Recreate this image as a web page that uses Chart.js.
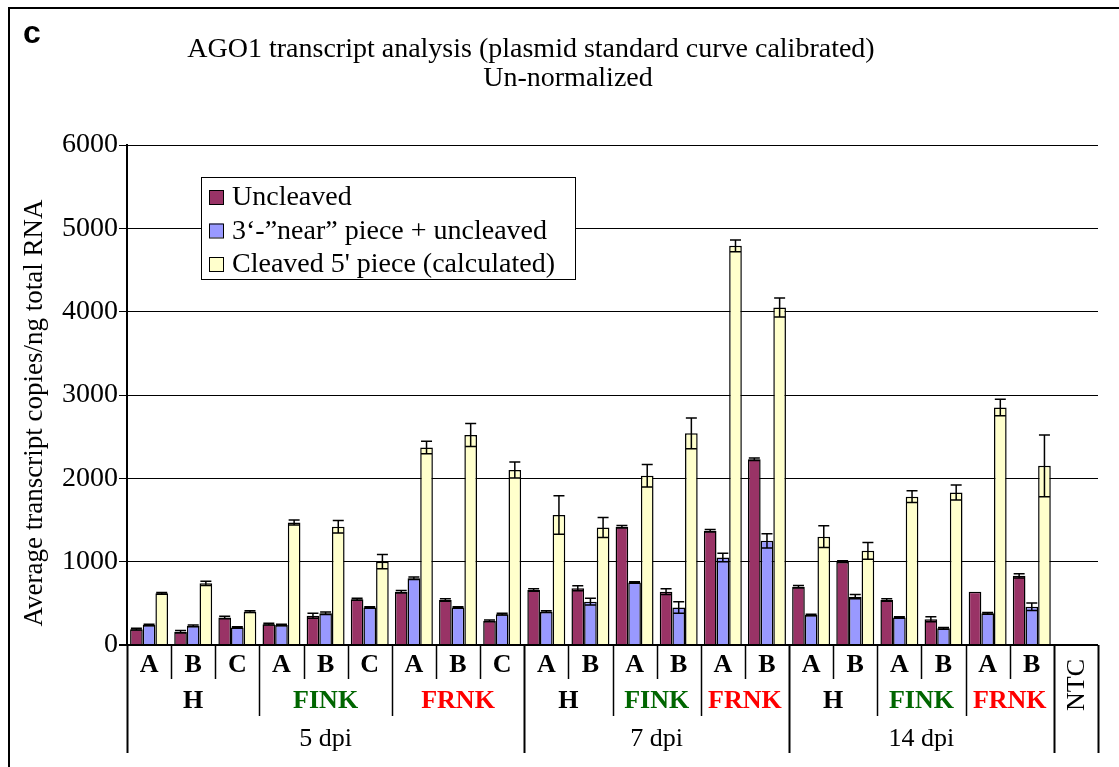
<!DOCTYPE html>
<html>
<head>
<meta charset="utf-8">
<script src="https://cdn.jsdelivr.net/npm/chart.js@4"></script>
<style>
  html, body { margin: 0; padding: 0; background: #fff; }
  #wrap { width: 1119px; height: 767px; position: relative; }
</style>
</head>
<body>
<div id="wrap"><canvas id="grafico" width="1119" height="767"></canvas></div>
<script>
// rótulos do eixo x em três níveis
const amostras = ['A','B','C','A','B','C','A','B','C','A','B','A','B','A','B','A','B','A','B','A','B','NTC'];
const linhas = ['H','H','H','FINK','FINK','FINK','FRNK','FRNK','FRNK','H','H','FINK','FINK','FRNK','FRNK','H','H','FINK','FINK','FRNK','FRNK','NTC'];
const dpi = ['5 dpi','5 dpi','5 dpi','5 dpi','5 dpi','5 dpi','5 dpi','5 dpi','5 dpi',
  '7 dpi','7 dpi','7 dpi','7 dpi','7 dpi','7 dpi',
  '14 dpi','14 dpi','14 dpi','14 dpi','14 dpi','14 dpi','NTC'];

// séries (cópias/ng RNA total)
const naoClivado = [190,160,330, 250,350,550, 640,540,290, 660,680, 1420,640, 1370,2230, 700,1000, 540,310, 640,830, 0];
const pedacoPerto = [240,230,210, 240,380,450, 800,450,370, 400,520, 750,450, 1050,1250, 360,580, 330,200, 380,460, 0];
const clivado5 = [620,740,400, 1470,1420,1000, 2370,2520,2100, 1560,1410, 2030,2540, 4790,4050, 1300,1130, 1780,1830, 2850,2150, 0];

// barras de erro
const erroNaoClivado = [10,15,15, 10,30,12, 15,15,10, 15,30, 15,35, 15,15, 15,10, 15,30, 0,25, 0];
const erroPerto = [10,10,10, 10,15,10, 15,10,10, 10,40, 10,70, 50,85, 10,25, 10,10, 10,45, 0];
const erroClivado = [10,25,10, 30,75,85, 75,138,95, 230,120, 135,185, 70,115, 130,100, 70,90, 100,370, 0];

const yTicks = [0,1000,2000,3000,4000,5000,6000];

const corLinha = { 'H': '#000000', 'FINK': '#006600', 'FRNK': '#FF0000' };
const serif = '"Liberation Serif", "Times New Roman", serif';

// desenha as barras de erro
const pluginErros = {
  id: 'erros',
  afterDatasetsDraw(chart) {
    const ctx = chart.ctx;
    const y = chart.scales.y;
    chart.data.datasets.forEach((ds, i) => {
      const meta = chart.getDatasetMeta(i);
      meta.data.forEach((bar, j) => {
        const e = ds.erros[j];
        const v = ds.data[j];
        if (!e || !v) return;
        const yt = y.getPixelForValue(v + e);
        const yb = y.getPixelForValue(v - e);
        ctx.save();
        ctx.strokeStyle = '#000';
        ctx.lineWidth = 1.5;
        ctx.beginPath();
        ctx.moveTo(bar.x, yt); ctx.lineTo(bar.x, yb);
        ctx.moveTo(bar.x - 5.5, yt); ctx.lineTo(bar.x + 5.5, yt);
        ctx.moveTo(bar.x - 5.5, yb); ctx.lineTo(bar.x + 5.5, yb);
        ctx.stroke();
        ctx.restore();
      });
    });
  }
};

// título, legenda, rótulos hierárquicos e moldura
const pluginExtras = {
  id: 'extras',
  afterDraw(chart) {
    const ctx = chart.ctx;
    const area = chart.chartArea;
    const x = chart.scales.x;
    const n = amostras.length;
    const larg = (area.right - area.left) / n;
    const base = area.bottom;
    ctx.save();

    // moldura
    ctx.strokeStyle = '#000';
    ctx.lineWidth = 2;
    ctx.beginPath();
    ctx.moveTo(9, 767); ctx.lineTo(9, 8); ctx.lineTo(1119, 8);
    ctx.stroke();

    ctx.fillStyle = '#000';
    ctx.font = 'bold 32px "Liberation Sans", Arial, sans-serif';
    ctx.textAlign = 'left';
    ctx.textBaseline = 'alphabetic';
    ctx.fillText('c', 23, 43);

    // título
    ctx.font = '28px ' + serif;
    ctx.textAlign = 'center';
    ctx.fillText('AGO1 transcript analysis (plasmid standard curve calibrated)', 531, 57);
    ctx.fillText('Un-normalized', 568, 86);

    // título do eixo y
    ctx.save();
    ctx.translate(35, 413);
    ctx.rotate(-Math.PI / 2);
    ctx.font = '27px ' + serif;
    ctx.textAlign = 'center';
    ctx.textBaseline = 'middle';
    ctx.fillText('Average transcript copies/ng total RNA', 0, 0);
    ctx.restore();

    // legenda
    ctx.fillStyle = '#fff';
    ctx.fillRect(201, 177, 374, 102);
    ctx.strokeStyle = '#000';
    ctx.lineWidth = 1;
    ctx.strokeRect(201.5, 177.5, 374, 102);
    chart.data.datasets.forEach((ds, i) => {
      const cy = 197 + i * 33.5;
      ctx.fillStyle = ds.backgroundColor;
      ctx.fillRect(209, cy - 7, 14, 14);
      ctx.strokeRect(209.5, cy - 6.5, 14, 14);
      ctx.fillStyle = '#000';
      ctx.font = '28px ' + serif;
      ctx.textAlign = 'left';
      ctx.textBaseline = 'middle';
      ctx.fillText(ds.label, 232, cy + 1);
    });

    // separadores do eixo x
    const yFim = [base + 34, base + 71, base + 108];
    ctx.strokeStyle = '#000';
    for (let k = 0; k <= n; k++) {
      let fim;
      if (k === 0 || k === n || dpi[k] !== dpi[k - 1]) fim = yFim[2];
      else if (linhas[k] !== linhas[k - 1]) fim = yFim[1];
      else fim = yFim[0];
      const px = Math.round(area.left + k * larg) + 0.5;
      ctx.lineWidth = fim === yFim[2] ? 2 : 1.5;
      ctx.beginPath();
      ctx.moveTo(px, base); ctx.lineTo(px, fim);
      ctx.stroke();
    }

    // linha 1: amostras
    ctx.textAlign = 'center';
    ctx.textBaseline = 'middle';
    ctx.fillStyle = '#000';
    ctx.font = 'bold 26px ' + serif;
    amostras.forEach((a, j) => {
      if (a === 'NTC') return;
      ctx.fillText(a, x.getPixelForValue(j), base + 20);
    });

    // agrupa rótulos consecutivos
    function grupos(rotulos, chave) {
      const g = [];
      rotulos.forEach((r, j) => {
        const c = chave(j);
        const ult = g[g.length - 1];
        if (ult && ult.c === c) ult.fim = j;
        else g.push({ r, c, ini: j, fim: j });
      });
      return g;
    }

    // linha 2: tratamentos
    grupos(linhas, j => dpi[j] + linhas[j]).forEach(g => {
      if (g.r === 'NTC') return;
      const cx = (x.getPixelForValue(g.ini) + x.getPixelForValue(g.fim)) / 2;
      ctx.fillStyle = corLinha[g.r];
      ctx.font = 'bold 26px ' + serif;
      ctx.fillText(g.r, cx, base + 56);
    });

    // linha 3: dias
    grupos(dpi, j => dpi[j]).forEach(g => {
      const cx = (x.getPixelForValue(g.ini) + x.getPixelForValue(g.fim)) / 2;
      ctx.fillStyle = '#000';
      if (g.r === 'NTC') {
        ctx.save();
        ctx.translate(cx + 1, base + 40);
        ctx.rotate(-Math.PI / 2);
        ctx.font = '26px ' + serif;
        ctx.fillText('NTC', 0, 0);
        ctx.restore();
        return;
      }
      ctx.font = '26px ' + serif;
      ctx.fillText(g.r, cx, base + 94);
    });

    ctx.restore();
  }
};

const ctx = document.getElementById('grafico');

new Chart(ctx, {
  type: 'bar',
  data: {
    labels: amostras,
    datasets: [
      { label: 'Uncleaved', data: naoClivado, erros: erroNaoClivado,
        backgroundColor: '#993366', borderColor: '#000', borderWidth: 1.5 },
      { label: '3‘-”near” piece + uncleaved', data: pedacoPerto, erros: erroPerto,
        backgroundColor: '#9999FF', borderColor: '#000', borderWidth: 1.5 },
      { label: 'Cleaved 5\' piece (calculated)', data: clivado5, erros: erroClivado,
        backgroundColor: '#FFFFCC', borderColor: '#000', borderWidth: 1.5 }
    ]
  },
  options: {
    responsive: false,
    animation: false,
    layout: { padding: { top: 145, right: 21, bottom: 122, left: 0 } },
    datasets: { bar: { categoryPercentage: 0.86, barPercentage: 1.0, borderSkipped: 'start' } },
    plugins: {
      legend: { display: false },
      tooltip: { enabled: false }
    },
    scales: {
      x: { display: false },
      y: {
        min: 0, max: 6000,
        afterFit(scale) { scale.width = 127; },
        afterBuildTicks(scale) { scale.ticks = yTicks.map(v => ({ value: v })); },
        border: { display: true, color: '#000', width: 2 },
        grid: {
          color: '#000',
          lineWidth: (c) => (c.tick && c.tick.value === 0 ? 2 : 1),
          tickLength: 8,
          tickColor: '#000'
        },
        ticks: {
          color: '#000',
          padding: 1,
          font: { family: serif, size: 28 },
          callback: (v) => String(v)
        }
      }
    }
  },
  plugins: [pluginErros, pluginExtras]
});
</script>
</body>
</html>
